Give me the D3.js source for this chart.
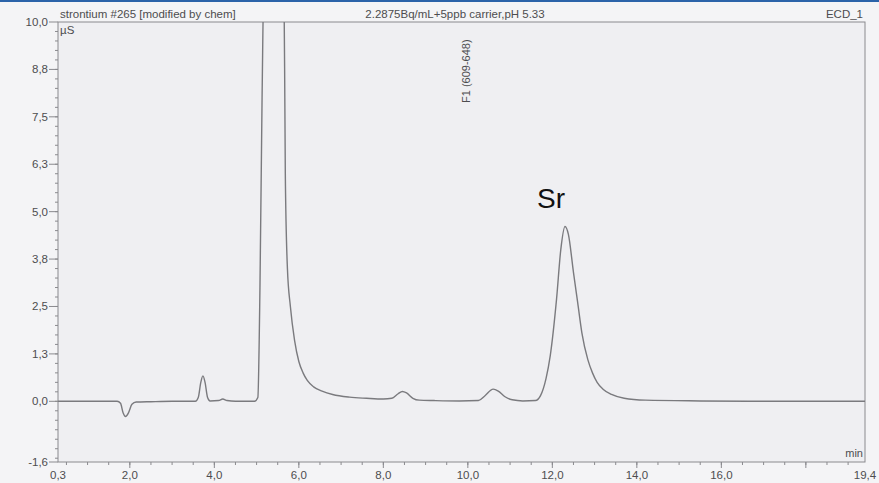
<!DOCTYPE html>
<html>
<head>
<meta charset="utf-8">
<script src="https://cdn.jsdelivr.net/npm/d3@7"></script>
<style>
  body { margin: 0; background: #f4f4f6; }
  svg { display: block; }
</style>
</head>
<body>
<script>
// Retention time (min) and conductivity (µS)
const times = [0.3, 1.0, 1.7, 1.78, 1.84, 1.9, 1.97, 2.05, 2.15, 2.5, 3.0, 3.55, 3.62, 3.68, 3.73, 3.78, 3.84, 3.9,
  4.1, 4.2, 4.3, 4.5, 4.95, 5.03, 5.08, 5.13, 5.19, 5.64, 5.68, 5.73, 5.8, 5.9, 6.0, 6.1, 6.2, 6.35, 6.55, 6.8, 7.2, 7.6,
  8.0, 8.2, 8.35, 8.45, 8.55, 8.7, 8.85, 9.2, 9.8, 10.25, 10.4, 10.6, 10.72, 10.88, 11.05, 11.3, 11.6, 11.72, 11.85,
  11.95, 12.1, 12.2, 12.3, 12.38, 12.5, 12.6, 12.7, 12.84, 12.95, 13.06, 13.2, 13.4, 13.7, 14.2, 15.5, 17.0, 19.4];
const values = [0.0, 0.0, 0.0, -0.05, -0.3, -0.4, -0.3, -0.08, -0.02, -0.01, 0.0, 0.0, 0.1, 0.5, 0.67, 0.5, 0.1, 0.01,
  0.02, 0.06, 0.02, 0.0, 0.0, 0.1, 3.0, 8.0, 12.0, 12.0, 6.0, 3.5, 2.5, 1.6, 1.05, 0.75, 0.55, 0.38, 0.27, 0.18, 0.11, 0.08,
  0.06, 0.08, 0.2, 0.26, 0.22, 0.08, 0.03, 0.02, 0.01, 0.02, 0.14, 0.32, 0.27, 0.12, 0.04, 0.01, 0.02, 0.15, 0.6,
  1.2, 2.7, 4.0, 4.61, 4.4, 3.4, 2.6, 1.8, 1.1, 0.75, 0.5, 0.32, 0.18, 0.08, 0.03, 0.01, 0.0, 0.0];

const yTickValues = [-1.6, 0, 1.25, 2.5, 3.75, 5, 6.25, 7.5, 8.75, 10];
const yTickLabels = ["-1,6", "0,0", "1,3", "2,5", "3,8", "5,0", "6,3", "7,5", "8,8", "10,0"];
const xTickValues = [0.3, 2, 4, 6, 8, 10, 12, 14, 16, 19.4];
const xTickLabels = ["0,3", "2,0", "4,0", "6,0", "8,0", "10,0", "12,0", "14,0", "16,0", "19,4"];
const xMajorTicks = [2, 4, 6, 8, 10, 12, 14, 16, 18];

const width = 879, height = 483;
const plotLeft = 58, plotRight = 865, plotTop = 22, plotBottom = 462;
const textColor = "#4d4d4f", axisColor = "#8a8a8e";

const x = d3.scaleLinear().domain([0.3, 19.4]).range([plotLeft, plotRight]);
const y = d3.scaleLinear().domain([-1.6, 10]).range([plotBottom, plotTop]);

const svg = d3.select("body").append("svg")
    .attr("width", width)
    .attr("height", height)
    .style("font-family", "'Liberation Sans', Arial, sans-serif");

// blue strip at the top of the page
svg.append("rect").attr("x", 0).attr("y", 0).attr("width", width).attr("height", 2).attr("fill", "#2b63a9");

svg.append("rect")
    .attr("x", plotLeft).attr("y", plotTop)
    .attr("width", plotRight - plotLeft).attr("height", plotBottom - plotTop)
    .attr("fill", "#efeff2")
    .attr("stroke", axisColor)
    .attr("stroke-width", 1);

svg.append("clipPath").attr("id", "plot")
  .append("rect").attr("x", plotLeft).attr("y", plotTop).attr("width", plotRight - plotLeft).attr("height", plotBottom - plotTop);

// y axis ticks
const yMinor = d3.range(-1.5, 10, 0.25);
svg.append("g").selectAll("line")
    .data(yMinor)
    .join("line")
    .attr("x1", plotLeft - 3).attr("x2", plotLeft)
    .attr("y1", d => y(d)).attr("y2", d => y(d))
    .attr("stroke", axisColor);

svg.append("g").selectAll("line")
    .data(yTickValues)
    .join("line")
    .attr("x1", plotLeft - 9).attr("x2", plotLeft)
    .attr("y1", d => y(d)).attr("y2", d => y(d))
    .attr("stroke", axisColor);

svg.append("g").selectAll("text")
    .data(yTickValues)
    .join("text")
    .attr("x", plotLeft - 10)
    .attr("y", d => y(d) + 4)
    .attr("text-anchor", "end")
    .attr("font-size", 11.5)
    .attr("fill", textColor)
    .text((d, i) => yTickLabels[i]);

// x axis ticks
const xMinor = d3.range(0.5, 19.4, 0.5);
svg.append("g").selectAll("line")
    .data(xMinor)
    .join("line")
    .attr("x1", d => x(d)).attr("x2", d => x(d))
    .attr("y1", plotBottom).attr("y2", plotBottom + 3)
    .attr("stroke", axisColor);

svg.append("g").selectAll("line")
    .data(xMajorTicks)
    .join("line")
    .attr("x1", d => x(d)).attr("x2", d => x(d))
    .attr("y1", plotBottom).attr("y2", plotBottom + 6)
    .attr("stroke", axisColor);

svg.append("g").selectAll("text")
    .data(xTickValues)
    .join("text")
    .attr("x", d => x(d))
    .attr("y", 479)
    .attr("text-anchor", "middle")
    .attr("font-size", 11.5)
    .attr("fill", textColor)
    .text((d, i) => xTickLabels[i]);

// trace
const line = d3.line()
    .x((d, i) => x(times[i]))
    .y(d => y(d))
    .curve(d3.curveMonotoneX);

svg.append("path")
    .datum(values)
    .attr("clip-path", "url(#plot)")
    .attr("fill", "none")
    .attr("stroke", "#7a7a7e")
    .attr("stroke-width", 1.4)
    .attr("d", line);

// header texts
svg.append("text").attr("x", plotLeft + 2).attr("y", 18).attr("font-size", 11.5).attr("fill", textColor)
    .text("strontium #265 [modified by chem]");
svg.append("text").attr("x", 455).attr("y", 18).attr("text-anchor", "middle").attr("font-size", 11.5).attr("fill", textColor)
    .text("2.2875Bq/mL+5ppb carrier,pH 5.33");
svg.append("text").attr("x", plotRight - 2).attr("y", 18).attr("text-anchor", "end").attr("font-size", 11.5).attr("fill", textColor)
    .text("ECD_1");
svg.append("text").attr("x", plotLeft + 2).attr("y", 34).attr("font-size", 11.5).attr("fill", textColor)
    .text("µS");
svg.append("text").attr("x", plotRight - 2).attr("y", 457).attr("text-anchor", "end").attr("font-size", 11).attr("fill", textColor)
    .text("min");
svg.append("text")
    .attr("transform", `translate(${x(10.0) + 2},103) rotate(-90)`)
    .attr("font-size", 11)
    .attr("fill", textColor)
    .text("F1 (609-648)");

// peak label
svg.append("text").attr("x", x(12.3) - 14).attr("y", 208).attr("text-anchor", "middle")
    .attr("font-family", "Arial, 'Liberation Sans', sans-serif")
    .attr("font-size", 28).attr("fill", "#111")
    .text("Sr");
</script>
</body>
</html>
